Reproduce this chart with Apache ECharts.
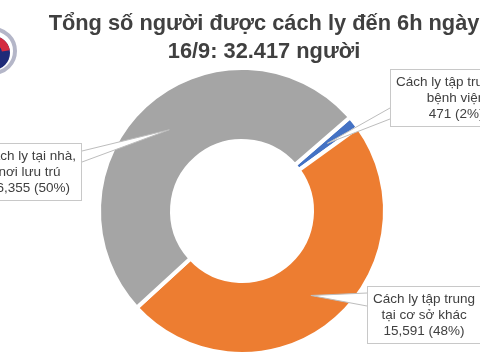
<!DOCTYPE html>
<html><head><meta charset="utf-8">
<script src="https://cdn.jsdelivr.net/npm/echarts@6/dist/echarts.min.js"></script>
<style>html,body{margin:0;padding:0;background:#fff}#c{width:480px;height:360px}</style>
</head><body><div id="c"></div>
<script>
const titleLines = ['Tổng số người được cách ly đến 6h ngày', '16/9: 32.417 người'];
const categories = ['Cách ly tập trung tại\nbệnh viện', 'Cách ly tập trung\ntại cơ sở khác', 'Cách ly tại nhà,\nnơi lưu trú'];
const values = [471, 15591, 16355];
const percentLabels = ['2%', '48%', '50%'];
const colors = ['#4472c4', '#ed7d31', '#a5a5a5'];

const CX = 242, CY = 211, R_OUT = 143, R_IN = 70, START = 41;
// label box: attached edge x, center y, which edge, wedge base offsets
const labelPos = [
  {edge: 390, y: 98, side: 'left', a: 10, b: 21},
  {edge: 367, y: 315, side: 'left', a: -22, b: -9},
  {edge: 82, y: 172, side: 'right', a: -21, b: -10}
];

function tipPoint(i) {
  const total = values.reduce((s, v) => s + v, 0);
  let cum = 0;
  for (let j = 0; j < i; j++) cum += values[j];
  const mid = (START - 360 * (cum + values[i] / 2) / total) * Math.PI / 180;
  const r = 109;
  return [CX + r * Math.cos(mid), CY - r * Math.sin(mid)];
}

const wedges = [];
labelPos.forEach((pos, i) => {
  const tip = tipPoint(i);
  const A = [pos.edge, pos.y + pos.a], B = [pos.edge, pos.y + pos.b];
  wedges.push({type: 'polygon', z: 100, shape: {points: [A, tip, B]}, style: {fill: '#fff', stroke: null}});
  wedges.push({type: 'polyline', z: 101, shape: {points: [A, tip, B]}, style: {fill: null, stroke: '#bdbdbd', lineWidth: 1}});
});

const chart = echarts.init(document.getElementById('c'), null, {renderer: 'canvas'});
chart.setOption({
  animation: false,
  backgroundColor: '#fff',
  title: {
    text: titleLines.join('\n'),
    left: 259, top: 5, textAlign: 'center',
    textStyle: {fontFamily: 'Liberation Sans', fontSize: 21.8, fontWeight: 'bold', color: '#404040', lineHeight: 28}
  },
  graphic: [
    {type: 'circle', shape: {cx: -7, cy: 51, r: 22}, style: {fill: 'none', stroke: '#b4b6c8', lineWidth: 4}},
    {type: 'circle', shape: {cx: -7, cy: 53, r: 17}, style: {fill: '#1e2a78'}},
    {type: 'sector', shape: {cx: -7, cy: 53, r: 17, r0: 9, startAngle: -Math.PI * 0.95, endAngle: -Math.PI * 0.05}, style: {fill: '#d42a40'}}
  ].concat(wedges),
  series: [{
    type: 'pie',
    center: [CX, CY],
    radius: [R_IN, R_OUT],
    startAngle: START,
    clockwise: true,
    avoidLabelOverlap: false,
    emphasis: {disabled: true},
    itemStyle: {borderColor: '#fff', borderWidth: 4},
    label: {
      show: true,
      formatter: p => p.name + '\n' + p.value.toLocaleString('en-US') + ' (' + percentLabels[p.dataIndex] + ')',
      fontFamily: 'Liberation Sans', fontSize: 13.5, lineHeight: 16, color: '#404040',
      backgroundColor: '#fff', borderColor: '#c8c8c8', borderWidth: 1, padding: [4, 5]
    },
    labelLine: {show: false},
    labelLayout: function (p) {
      const pos = labelPos[p.dataIndex];
      const w = p.labelRect.width;
      const x = pos.side === 'left' ? pos.edge + w / 2 : pos.edge - w / 2;
      return {x: x, y: pos.y, align: 'center', verticalAlign: 'middle'};
    },
    data: categories.map((n, i) => ({name: n, value: values[i], itemStyle: {color: colors[i]}}))
  }]
});
</script>
</body></html>
